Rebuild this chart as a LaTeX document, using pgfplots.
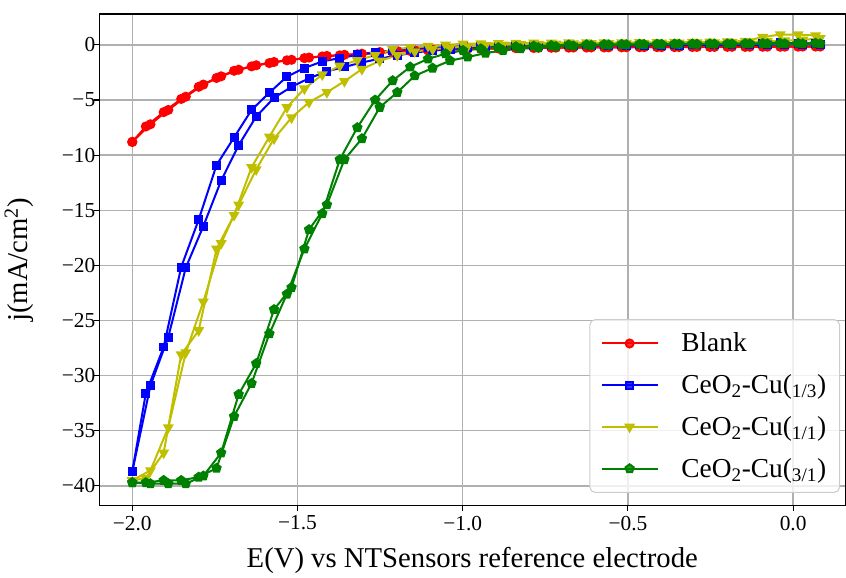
\documentclass[border=0pt]{standalone}
\usepackage{fontspec}
\setmainfont{Liberation Serif}
\usepackage{pgfplots}
\usepackage{pgfplotstable}
\pgfplotsset{compat=1.18}
\usetikzlibrary{plotmarks}

\definecolor{cblank}{rgb}{1,0,0}
\definecolor{cthird}{rgb}{0,0,1}
\definecolor{cone}{rgb}{0.75,0.75,0}
\definecolor{cthree}{rgb}{0,0.5,0}
\definecolor{gridgray}{RGB}{176,176,176}
\definecolor{legframe}{RGB}{204,204,204}

% cathodic-going branch of each voltammogram
\pgfplotstableread{
x      blank  cu13    cu11   cu31
-2.000 -8.8   -38.7   -39.5  -39.7
-1.945 -7.2   -30.9   -38.6  -39.8
-1.891 -5.9   -26.5   -34.7  -39.8
-1.838 -4.7   -20.2   -27.9  -39.8
-1.785 -3.6   -16.45  -23.3  -39.1
-1.731 -2.85  -12.3   -18.0  -37.0
-1.678 -2.25  -9.1    -14.5  -31.7
-1.625 -1.85  -6.5    -11.3  -28.9
-1.571 -1.55  -4.8    -8.5   -24.0
-1.518 -1.35  -3.8    -6.6   -22.0
-1.465 -1.15  -3.03   -5.2   -16.75
-1.411 -1.0   -2.4    -4.3   -14.5
-1.358 -0.9   -2.0    -3.3   -10.4
-1.305 -0.8   -1.6    -2.2   -8.5
-1.251 -0.65  -1.25   -1.45  -5.66
-1.198 -0.55  -0.95   -0.95  -4.3
-1.145 -0.5   -0.7    -0.6   -2.8
-1.091 -0.45  -0.5    -0.4   -2.1
-1.038 -0.4   -0.38   -0.25  -1.43
-0.985 -0.35  -0.28   -0.15  -1.1
-0.931 -0.32  -0.2    -0.05  -0.75
-0.878 -0.3   -0.15   0.0    -0.5
-0.825 -0.28  -0.12   0.05   -0.35
-0.771 -0.26  -0.1    0.08   -0.25
-0.718 -0.25  -0.08   0.1    -0.15
-0.665 -0.24  -0.07   0.12   -0.1
-0.611 -0.23  -0.06   0.14   -0.05
-0.558 -0.22  -0.05   0.15   0.0
-0.505 -0.21  -0.04   0.16   0.02
-0.451 -0.2   -0.03   0.17   0.04
-0.398 -0.2   -0.02   0.18   0.05
-0.345 -0.19  -0.02   0.19   0.06
-0.291 -0.18  -0.01   0.2    0.07
-0.238 -0.18  0.0     0.22   0.08
-0.185 -0.17  0.0     0.25   0.09
-0.131 -0.17  0.0     0.28   0.1
-0.078 -0.16  0.02    0.32   0.1
-0.025 -0.16  0.03    0.38   0.1
0.029  -0.15  0.05    0.45   0.1
0.082  -0.15  0.05    0.6    0.1
}\scanfwd

% return branch
\pgfplotstableread{
x      blank  cu13    cu11   cu31
-2.000 -8.8   -38.7   -39.5  -39.7
-1.959 -7.4   -31.6   -39.3  -39.7
-1.905 -6.1   -27.4   -37.0  -39.5
-1.852 -4.9   -20.15  -28.1  -39.5
-1.799 -3.8   -15.85  -25.9  -39.2
-1.745 -3.0   -10.9   -18.5  -38.4
-1.692 -2.35  -8.4    -15.45 -33.7
-1.639 -1.95  -5.9    -11.1  -30.7
-1.585 -1.65  -4.33   -8.33  -26.2
-1.532 -1.4   -2.88   -5.67  -22.6
-1.479 -1.2   -2.1    -3.97  -18.5
-1.425 -1.05  -1.5    -2.7   -15.3
-1.372 -0.95  -1.2    -1.9   -10.4
-1.319 -0.85  -0.9    -1.4   -7.5
-1.265 -0.75  -0.7    -0.94  -5.0
-1.212 -0.65  -0.5    -0.4   -3.24
-1.159 -0.55  -0.38   -0.25  -2.0
-1.105 -0.5   -0.28   -0.1   -1.27
-1.052 -0.45  -0.2    0.0    -0.8
-0.999 -0.4   -0.15   0.1    -0.5
-0.945 -0.36  -0.1    0.12   -0.35
-0.892 -0.33  -0.08   0.15   -0.25
-0.839 -0.3   -0.05   0.17   -0.15
-0.785 -0.28  -0.03   0.18   -0.1
-0.732 -0.26  -0.02   0.19   -0.05
-0.679 -0.25  0.0     0.2    0.0
-0.625 -0.24  0.0     0.2    0.02
-0.572 -0.23  0.02    0.21   0.04
-0.519 -0.22  0.03    0.22   0.05
-0.465 -0.21  0.04    0.23   0.06
-0.412 -0.2   0.05    0.24   0.07
-0.359 -0.2   0.06    0.25   0.08
-0.305 -0.19  0.07    0.26   0.09
-0.252 -0.19  0.08    0.27   0.1
-0.199 -0.18  0.09    0.3    0.1
-0.145 -0.18  0.1     0.35   0.12
-0.092 -0.17  0.15    0.7    0.13
-0.039 -0.17  0.2     0.94   0.14
0.015  -0.16  0.15    0.94   0.15
0.068  -0.15  0.1     0.85   0.15
}\scanrev

\begin{document}
\begin{tikzpicture}
\begin{axis}[
  scale only axis,
  width=558.75pt, height=368.25pt,
  xmin=-2.1, xmax=0.158,
  ymin=-41.8, ymax=2.8,
  xtick={-2,-1.5,-1,-0.5,0},
  xticklabels={−2.0,−1.5,−1.0,−0.5,0.0},
  ytick={-40,-35,-30,-25,-20,-15,-10,-5,0},
  yticklabels={−40,−35,−30,−25,−20,−15,−10,−5,0},
  grid=major,
  major grid style={gridgray, line width=1pt},
  tick align=outside,
  xtick pos=lower, ytick pos=left,
  major tick length=4pt,
  tick style={black, line width=0.8pt},
  axis line style={black, line width=0.8pt},
  tick label style={font=\fontsize{16}{18}\selectfont},
  yticklabel style={xshift=4.5pt},
  label style={font=\fontsize{21.5}{24}\selectfont},
  xlabel style={yshift=-5.5pt},
  ylabel style={yshift=14pt},
  xlabel={E(V) vs NTSensors reference electrode},
  ylabel={j(mA/cm\textsuperscript{2})},
  every axis plot/.append style={line width=1.5pt},
  legend image code/.code={%
    \draw[mark repeat=2,mark phase=2,#1]
      plot coordinates {(0pt,0pt) (21pt,0pt) (42pt,0pt)};},
  legend cell align=left,
  legend style={
    at={(0.993,0.026)}, anchor=south east,
    draw=legframe, line width=0.8pt, rounded corners=4pt,
    fill=white, fill opacity=0.8, text opacity=1, draw opacity=1,
    font=\fontsize{20.5}{23}\selectfont,
    row sep=11.5pt, inner xsep=8pt, inner ysep=8pt,
    /tikz/every odd column/.append style={column sep=15pt},
  },
]
\addplot[color=cblank, mark=*, mark size=3pt, mark options={fill=cblank}]
  table[x=x, y=blank]{\scanfwd};
\addlegendentry{Blank}
\addplot[color=cblank, mark=*, mark size=3pt, mark options={fill=cblank}, forget plot]
  table[x=x, y=blank]{\scanrev};

\addplot[color=cthird, mark=square*, mark size=2.6pt, mark options={fill=cthird}]
  table[x=x, y=cu13]{\scanfwd};
\addlegendentry{CeO\textsubscript{2}-Cu(\textsubscript{1/3})}
\addplot[color=cthird, mark=square*, mark size=2.6pt, mark options={fill=cthird}, forget plot]
  table[x=x, y=cu13]{\scanrev};

\addplot[color=cone, mark=triangle*, mark size=3.3pt, mark options={fill=cone, rotate=180}]
  table[x=x, y=cu11]{\scanfwd};
\addlegendentry{CeO\textsubscript{2}-Cu(\textsubscript{1/1})}
\addplot[color=cone, mark=triangle*, mark size=3.3pt, mark options={fill=cone, rotate=180}, forget plot]
  table[x=x, y=cu11]{\scanrev};

\addplot[color=cthree, mark=pentagon*, mark size=3.2pt, mark options={fill=cthree}]
  table[x=x, y=cu31]{\scanfwd};
\addlegendentry{CeO\textsubscript{2}-Cu(\textsubscript{3/1})}
\addplot[color=cthree, mark=pentagon*, mark size=3.2pt, mark options={fill=cthree}, forget plot]
  table[x=x, y=cu31]{\scanrev};
\end{axis}
% white margin above the frame
\path ([yshift=10.5pt]current axis.north);
\end{tikzpicture}
\end{document}
